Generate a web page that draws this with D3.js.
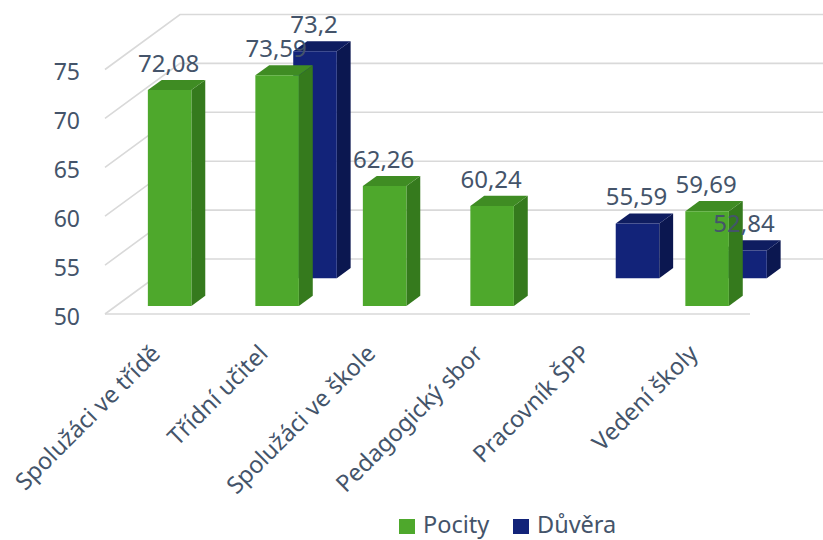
<!DOCTYPE html>
<html>
<head>
<meta charset="utf-8">
<script src="https://cdn.jsdelivr.net/npm/d3@7"></script>
<style>
  html, body { margin: 0; padding: 0; background: #ffffff; }
  svg { display: block; }
  text { font-family: "Noto Sans", "Open Sans", sans-serif; fill: #44546a; }
</style>
</head>
<body>
<svg id="chart" width="823" height="540"></svg>
<script>
const categories = ["Spolužáci ve třídě", "Třídní učitel", "Spolužáci ve škole", "Pedagogický sbor", "Pracovník ŠPP", "Vedení školy"];
const pocity = [72.08, 73.59, 62.26, 60.24, null, 59.69];
const duvera = [null, 73.2, null, null, 55.59, 52.84];
const yTicks = [50, 55, 60, 65, 70, 75];
const seriesNames = ["Pocity", "Důvěra"];

const colors = {
  Pocity: { front: "#4ea82c", side: "#357a1d", top: "#3f8c23" },
  "Důvěra": { front: "#122379", side: "#0b1750", top: "#0f1d60" }
};

const svg = d3.select("#chart");

// oblique 3D projection parameters
const floorY = 314;
const depthDX = 75, depthDY = 55;
const plotLeft = 105, plotRight = 750;

const x = d3.scaleBand().domain(categories).range([plotLeft, plotRight])
  .paddingInner(0.595).paddingOuter(0.2975);
const h = d3.scaleLinear().domain([50, 75]).range([0, 244.5]);
const yFront = d3.scaleLinear().domain([50, 75]).range([floorY, floorY - 244.5]);

function P(px, v, z) { return [px + z * depthDX, floorY - h(v) - z * depthDY]; }

const grid = svg.append("g").attr("stroke", "#d9d9d9").attr("stroke-width", 1.6).attr("fill", "none");
yTicks.forEach(t => {
  const a = P(plotLeft, t, 0), b = P(plotLeft, t, 1), c = P(plotRight + 2, t, 1);
  grid.append("path").attr("d", `M${a[0]},${a[1]}L${b[0]},${b[1]}L${c[0]},${c[1]}`);
});
{
  const a = P(plotLeft, 50, 0), b = P(plotRight, 50, 0);
  grid.append("line").attr("x1", a[0]).attr("y1", a[1]).attr("x2", b[0]).attr("y2", b[1]);
}

// y axis labels
const yAxis = d3.axisLeft(yFront).tickValues(yTicks).tickSize(0).tickPadding(0).tickFormat(d3.format("d"));
const ya = svg.append("g").attr("transform", "translate(80,3)").call(yAxis);
ya.select(".domain").remove();
ya.selectAll("text").attr("font-size", 23).attr("fill", "#44546a")
  .style("font-family", '"Noto Sans", sans-serif');

function drawBar(g, cat, v, z0, z1, col) {
  const x0 = x(cat), x1 = x(cat) + x.bandwidth();
  const fb0 = P(x0, 50, z0), ft0 = P(x0, v, z0), ft1 = P(x1, v, z0), fb1 = P(x1, 50, z0);
  const bt0 = P(x0, v, z1), bt1 = P(x1, v, z1), bb1 = P(x1, 50, z1);
  g.append("polygon").attr("points", [ft1, fb1, bb1, bt1].map(p => p.join(",")).join(" ")).attr("fill", col.side);
  g.append("polygon").attr("points", [ft0, ft1, bt1, bt0].map(p => p.join(",")).join(" ")).attr("fill", col.top);
  g.append("polygon").attr("points", [fb0, ft0, ft1, fb1].map(p => p.join(",")).join(" ")).attr("fill", col.front);
}

const series = [
  { name: "Důvěra", values: duvera, z0: 0.65, z1: 0.835 },
  { name: "Pocity", values: pocity, z0: 0.145, z1: 0.33 }
];
const bars = svg.append("g");
series.forEach(s => {
  categories.forEach((c, i) => {
    const v = s.values[i];
    if (v == null) return;
    drawBar(bars, c, v, s.z0, s.z1, colors[s.name]);
  });
});

// data labels
const fmt = v => String(v).replace(".", ",");
const labels = svg.append("g");
series.forEach(s => {
  categories.forEach((c, i) => {
    const v = s.values[i];
    if (v == null) return;
    const top = P(x(c) + x.bandwidth() / 2, v, s.z1);
    const front = P(x(c) + x.bandwidth() / 2, v, s.z0);
    labels.append("text").attr("x", front[0] - 1).attr("y", top[1] - 8)
      .attr("text-anchor", "middle").attr("font-size", 24).text(fmt(v));
  });
});

// category labels
const cl = svg.append("g");
categories.forEach(c => {
  const cx = x(c) + x.bandwidth() / 2 + 3;
  cl.append("text").attr("transform", `translate(${cx},355) rotate(-45)`)
    .attr("text-anchor", "end").attr("font-size", 23.5).text(c);
});

// legend
const legend = svg.append("g");
const legendItems = [{ name: seriesNames[0], x: 399 }, { name: seriesNames[1], x: 513 }];
legendItems.forEach(it => {
  legend.append("rect").attr("x", it.x).attr("y", 519).attr("width", 16).attr("height", 15)
    .attr("fill", colors[it.name].front);
  legend.append("text").attr("x", it.x + 24).attr("y", 533).attr("font-size", 23.5).text(it.name);
});
</script>
</body>
</html>
